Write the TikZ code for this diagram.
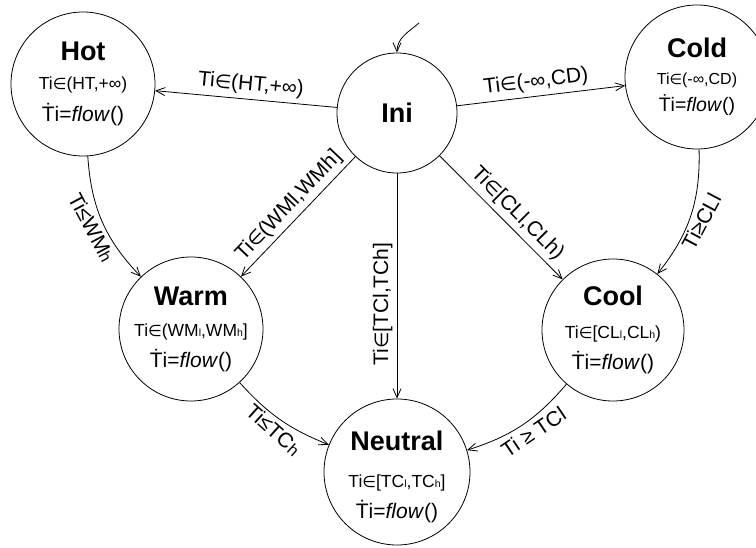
\documentclass[tikz,border=0pt]{standalone}
\usepackage{fontspec}
\setmainfont{Liberation Sans}
\newfontfamily\symfont{DejaVu Sans}
\usetikzlibrary{arrows.meta}
\newcommand\elm{{\symfont\scalebox{0.9}{∈}}}
\newcommand\lo[1]{\scalebox{0.6}{#1}}
\newcommand\mo[1]{\scalebox{0.78}{#1}}
\newcommand\tfnt{\fontsize{27}{27}\selectfont\bfseries}
\newcommand\lfnt{\fontsize{17.5}{17.5}\selectfont}
\newcommand\dfnt{\fontsize{21}{21}\selectfont}
\newcommand\flowline{{\dfnt Ṫi=\textit{flow}()}}
\begin{document}
\begin{tikzpicture}[x=1pt,y=1pt,
  state/.style={draw, circle, line width=0.8pt, inner sep=0pt, align=center,
    font=\fontsize{18}{31}\selectfont},
  arr/.style={line width=0.8pt, -{Straight Barb[length=9pt,width=8pt]}},
  elab/.style={font=\fontsize{21}{21}\selectfont, inner sep=4pt},
  elabel/.style={elab, sloped}]
\useasboundingbox (0,0) rectangle (756,-548);

\node[state, minimum size=144pt] (hot) at (83,-84)
  {{\tfnt Hot}\\[-2pt]{\lfnt Ti\elm(HT,+∞)}\\[1pt]\flowline};
\node[state, minimum size=144pt, font=\fontsize{16}{27}\selectfont] (cold) at (697,-77)
  {{\tfnt Cold}\\{\fontsize{16}{16}\selectfont Ti\elm(-∞,CD)}\\{\fontsize{19.5}{19.5}\selectfont Ṫi=\textit{flow}()}};
\node[state, minimum size=120pt] (ini) at (397,-113) {\tfnt Ini};
\node[state, minimum size=144pt] (warm) at (191,-329)
  {{\tfnt Warm}\\{\lfnt Ti\elm(WM\lo{l},WM\lo{h}]}\\\flowline};
\node[state, minimum size=142pt] (cool) at (613,-330)
  {{\tfnt Cool}\\[2pt]{\lfnt Ti\elm[CL\lo{l},CL\lo{h})}\\\flowline};
\node[state, minimum size=146pt] (neutral) at (397,-472)
  {\rule{0pt}{30pt}{\tfnt Neutral}\\[6pt]{\lfnt Ti\elm[TC\lo{l},TC\lo{h}]}\\\flowline};

\coordinate (start) at (419,-23);
\draw[arr] (start) to[out=-140,in=90] (ini.north);

\draw[arr] (ini) -- node[elabel, above, pos=0.48] {Ti\elm(HT,+∞)} (hot);
\draw[arr] (ini) -- node[elabel, above, pos=0.48] {Ti\elm(-∞,CD)} (cold);
\draw[arr] (ini) -- node[elabel, above, pos=0.49] {Ti\elm(WMl,WMh]} (warm);
\draw[arr] (ini) -- node[elab, rotate=90, anchor=south, pos=0.58] {Ti\elm[TCl,TCh]} (neutral);
\draw[arr] (ini) -- node[elabel, above, pos=0.55] {Ti\elm[CLl,CLh)} (cool);

\draw[arr] (hot) to[bend right=20] node[elab, rotate=-62, anchor=north, pos=0.5] {Ti≤WM\mo{h}} (warm);
\draw[arr] (cold) to[bend left=20] node[elab, rotate=62, anchor=north, pos=0.5] {Ti≥CLl} (cool);
\draw[arr] (warm) to[bend right=13] node[elab, rotate=-42, anchor=north, pos=0.52] {Ti≤TC\mo{h}} (neutral);
\draw[arr] (cool) to[bend left=16] node[elab, rotate=34, anchor=north, pos=0.45] {Ti ≥ TCl} (neutral);
\end{tikzpicture}
\end{document}
